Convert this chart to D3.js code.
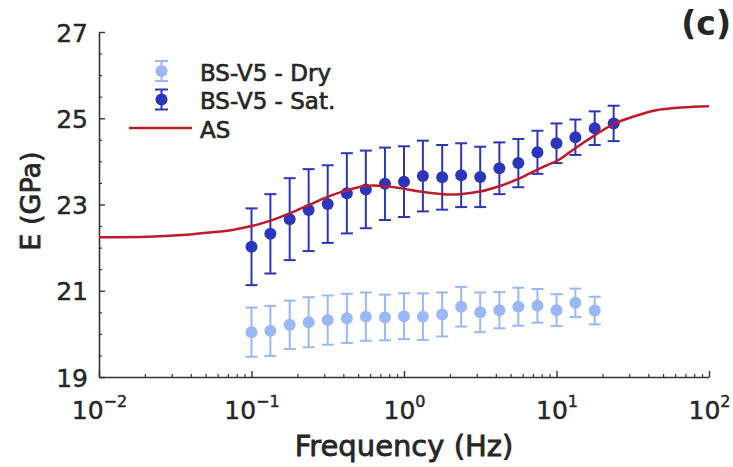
<!DOCTYPE html>
<html>
<head>
<meta charset="utf-8">
<script src="https://cdn.jsdelivr.net/npm/d3@7"></script>
<style>
  html, body { margin: 0; padding: 0; background: #fff; }
  svg { display: block; }
  text { font-family: "DejaVu Sans", sans-serif; fill: #262626; }
</style>
</head>
<body>
<svg id="chart" width="733" height="467"></svg>
<script>
// Axis ticks
const xTickExponents = [-2, -1, 0, 1, 2];
const yTicks = [19, 21, 23, 25, 27];
const seriesNames = ["BS-V5 - Dry", "BS-V5 - Sat.", "AS"];
const panelLabel = "(c)";

// Dry specimen: frequency (Hz), modulus (GPa), error half-width (GPa)
const dryFreq = [0.1, 0.133, 0.178, 0.237, 0.316, 0.422, 0.562, 0.75, 1.0, 1.33,
                 1.78, 2.37, 3.16, 4.22, 5.62, 7.5, 10.0, 13.3, 17.8];
const dryE    = [20.04, 20.07, 20.21, 20.27, 20.32, 20.36, 20.40, 20.38, 20.41, 20.40,
                 20.45, 20.63, 20.50, 20.55, 20.63, 20.65, 20.55, 20.72, 20.54];
const dryErr  = [0.57, 0.58, 0.56, 0.58, 0.57, 0.57, 0.56, 0.53, 0.53, 0.54,
                 0.51, 0.46, 0.46, 0.42, 0.44, 0.39, 0.37, 0.33, 0.32];

// Saturated specimen
const satFreq = [0.1, 0.133, 0.178, 0.237, 0.316, 0.422, 0.562, 0.75, 1.0, 1.33,
                 1.78, 2.37, 3.16, 4.22, 5.62, 7.5, 10.0, 13.3, 17.8, 23.7];
const satE    = [22.02, 22.32, 22.66, 22.87, 23.01, 23.26, 23.35, 23.48, 23.53, 23.66,
                 23.63, 23.68, 23.64, 23.84, 23.96, 24.21, 24.42, 24.56, 24.77, 24.88];
const satErr  = [0.89, 0.92, 0.95, 0.95, 0.90, 0.93, 0.90, 0.84, 0.82, 0.82,
                 0.75, 0.74, 0.70, 0.60, 0.56, 0.50, 0.46, 0.41, 0.39, 0.41];

// AS model curve
const asFreq = [0.01, 0.021, 0.035, 0.053, 0.075, 0.1, 0.132, 0.179, 0.242, 0.327,
                0.443, 0.555, 0.728, 0.942, 1.27, 1.8, 2.33, 3.15, 4.27, 5.77,
                7.8, 10.5, 13.2, 17.9, 24.2, 32.7, 44.3, 66.5, 100];
const asE    = [22.24, 22.25, 22.29, 22.35, 22.41, 22.50, 22.62, 22.80, 23.00, 23.20,
                23.35, 23.43, 23.43, 23.38, 23.30, 23.24, 23.24, 23.30, 23.43, 23.61,
                23.84, 24.05, 24.30, 24.61, 24.88, 25.05, 25.18, 25.25, 25.28];

const colors = { dry: "#9ab7f7", sat: "#2c36bd", as: "#bd1a2c", axis: "#333333" };

const svg = d3.select("#chart");
const x = d3.scaleLog().domain([1e-2, 1e2]).range([99, 709]);
const y = d3.scaleLinear().domain([19, 27]).range([377, 32]);

// ---- axes ----
const xMinor = x.ticks().filter(v => Math.abs(Math.log10(v) - Math.round(Math.log10(v))) > 1e-6);
const yMinor = d3.range(19, 27.001, 0.5).filter(v => !yTicks.includes(v));

const gxMinor = svg.append("g").attr("transform", "translate(0,377)")
  .call(d3.axisBottom(x).tickValues(xMinor).tickSize(-3).tickSizeOuter(0).tickFormat(""));
const gyMinor = svg.append("g").attr("transform", "translate(99,0)")
  .call(d3.axisLeft(y).tickValues(yMinor).tickSize(-3).tickSizeOuter(0).tickFormat(""));
[gxMinor, gyMinor].forEach(g => {
  g.select(".domain").remove();
  g.selectAll(".tick line").attr("stroke", colors.axis).attr("stroke-width", 1.2);
});

const gx = svg.append("g").attr("transform", "translate(0,377)")
  .call(d3.axisBottom(x).tickValues(xTickExponents.map(e => Math.pow(10, e)))
    .tickSize(-6).tickSizeOuter(0).tickFormat(""));
const gy = svg.append("g").attr("transform", "translate(99,0)")
  .call(d3.axisLeft(y).tickValues(yTicks).tickSize(-6).tickSizeOuter(0).tickPadding(11)
    .tickFormat(d3.format("d")));

[gx, gy].forEach(g => {
  g.select(".domain").attr("stroke", colors.axis).attr("stroke-width", 1.6);
  g.selectAll(".tick line").attr("stroke", colors.axis).attr("stroke-width", 1.4);
});
gy.selectAll(".tick text")
  .attr("font-family", "DejaVu Sans").attr("font-size", 25)
  .attr("fill", "#262626").attr("stroke", "#262626").attr("stroke-width", 0.45)
  .attr("dy", "0.36em");

// power-of-ten labels: "10" with superscript exponent
gx.selectAll(".tick").each(function (d) {
  const e = Math.round(Math.log10(d));
  const t = d3.select(this).append("text")
    .attr("y", 42.3).attr("text-anchor", "middle")
    .attr("font-family", "DejaVu Sans").attr("font-size", 25)
    .attr("fill", "#262626").attr("stroke", "#262626").attr("stroke-width", 0.45);
  t.append("tspan").text("10");
  t.append("tspan").attr("font-size", 16).attr("dy", -12.5)
    .text(e < 0 ? "\u2212" + Math.abs(e) : String(e));
});

// axis titles
svg.append("text")
  .attr("x", 404).attr("y", 455.5).attr("text-anchor", "middle")
  .attr("font-size", 29).attr("stroke", "#262626").attr("stroke-width", 0.8)
  .text("Frequency (Hz)");
svg.append("text")
  .attr("transform", "translate(40,201) rotate(-90)").attr("text-anchor", "middle")
  .attr("font-size", 27).attr("stroke", "#262626").attr("stroke-width", 0.8)
  .text("E (GPa)");

// panel label
svg.append("text")
  .attr("x", 731).attr("y", 35).attr("text-anchor", "end")
  .attr("font-family", "Liberation Sans, Arial, sans-serif").attr("font-weight", "bold")
  .attr("font-size", 33).attr("fill", "#000")
  .text(panelLabel);

// ---- error-bar series ----
function drawSeries(freq, vals, errs, color) {
  const data = freq.map((f, i) => ({ f, v: vals[i], e: errs[i] }));
  const g = svg.append("g");
  const pt = g.selectAll("g").data(data).join("g")
    .attr("transform", d => `translate(${x(d.f)},0)`);
  pt.append("line")
    .attr("y1", d => y(d.v - d.e)).attr("y2", d => y(d.v + d.e))
    .attr("stroke", color).attr("stroke-width", 2);
  [-1, 1].forEach(s => {
    pt.append("line")
      .attr("x1", -6).attr("x2", 6)
      .attr("y1", d => y(d.v + s * d.e)).attr("y2", d => y(d.v + s * d.e))
      .attr("stroke", color).attr("stroke-width", 2);
  });
  pt.append("circle").attr("cy", d => y(d.v)).attr("r", 6).attr("fill", color);
}
drawSeries(dryFreq, dryE, dryErr, colors.dry);
drawSeries(satFreq, satE, satErr, colors.sat);

// ---- AS curve ----
const asData = asFreq.map((f, i) => ({ f, v: asE[i] }));
svg.append("path")
  .datum(asData)
  .attr("fill", "none").attr("stroke", colors.as).attr("stroke-width", 2.5)
  .attr("d", d3.line().x(d => x(d.f)).y(d => y(d.v)).curve(d3.curveCatmullRom.alpha(0.5)));

// ---- legend ----
const legend = svg.append("g");
const legendRows = [
  { name: seriesNames[0], color: colors.dry, type: "err", cy: 71 },
  { name: seriesNames[1], color: colors.sat, type: "err", cy: 99.5 },
  { name: seriesNames[2], color: colors.as, type: "line", cy: 128 }
];
legendRows.forEach(r => {
  if (r.type === "err") {
    legend.append("line").attr("x1", 161.5).attr("x2", 161.5)
      .attr("y1", r.cy - 10).attr("y2", r.cy + 10)
      .attr("stroke", r.color).attr("stroke-width", 2);
    [-10, 10].forEach(o => legend.append("line")
      .attr("x1", 155).attr("x2", 168).attr("y1", r.cy + o).attr("y2", r.cy + o)
      .attr("stroke", r.color).attr("stroke-width", 2));
    legend.append("circle").attr("cx", 161.5).attr("cy", r.cy).attr("r", 6).attr("fill", r.color);
  } else {
    legend.append("line").attr("x1", 129).attr("x2", 192)
      .attr("y1", r.cy).attr("y2", r.cy)
      .attr("stroke", r.color).attr("stroke-width", 2.5);
  }
  legend.append("text").attr("x", 200).attr("y", r.cy + 9.5)
    .attr("font-size", 23).attr("stroke", "#262626").attr("stroke-width", 0.65)
    .text(r.name);
});
</script>
</body>
</html>
